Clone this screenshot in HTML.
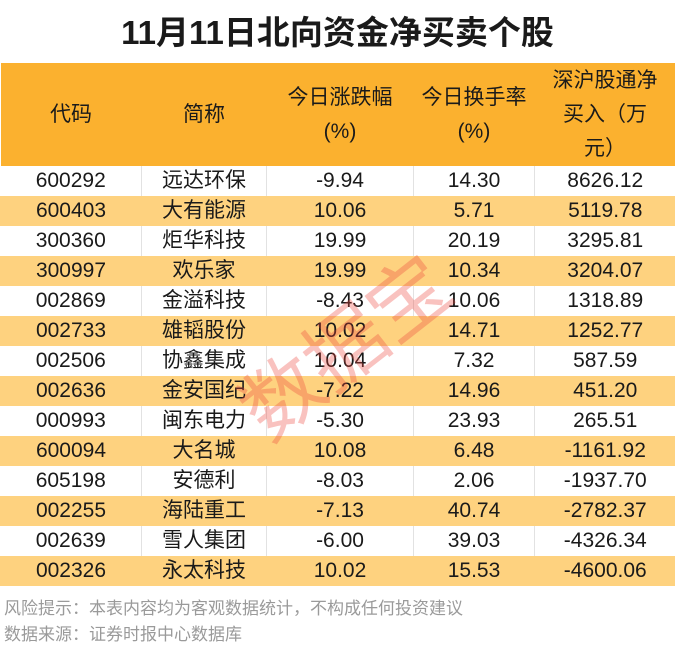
<!DOCTYPE html>
<html><head><meta charset="utf-8"><style>
body{margin:0;width:675px;height:650px;background:#fff;position:relative;overflow:hidden;font-family:"Liberation Sans","Noto Sans CJK SC",sans-serif;color:#1a1a1a}
.title{position:absolute;top:9px;left:0;width:675px;text-align:center;font-size:33px;font-weight:bold;line-height:48px}
table{position:absolute;top:63px;left:0;width:675px;border-collapse:collapse;table-layout:fixed}
td{text-align:center;font-size:21px;height:30px;padding:0;line-height:30px;border-left:1px solid #e2e2e2}
td:first-child{border-left:none}
tr.h td{background:#FBB12F;height:103px;line-height:34px;border-left:none}
tr.o td{background:#FED27F;border-left:1px solid #FED27F}
.foot{position:absolute;left:4px;font-size:17px;color:#9a9a9a}
.wm{position:absolute;left:222px;top:285px;font-size:80px;color:rgba(238,70,60,0.33);transform:rotate(-38deg);white-space:nowrap;font-family:"Noto Sans CJK SC",sans-serif}
</style></head><body>
<div class="title">11月11日北向资金净买卖个股</div>
<table>
<colgroup><col style="width:141px"><col style="width:125px"><col style="width:147px"><col style="width:121px"><col style="width:141px"></colgroup>
<tr class="h"><td>代码</td><td>简称</td><td>今日涨跌幅<br>(%)</td><td>今日换手率<br>(%)</td><td>深沪股通净<br>买入（万<br>元）</td></tr>
<tr><td>600292</td><td>远达环保</td><td>-9.94</td><td>14.30</td><td>8626.12</td></tr>
<tr class="o"><td>600403</td><td>大有能源</td><td>10.06</td><td>5.71</td><td>5119.78</td></tr>
<tr><td>300360</td><td>炬华科技</td><td>19.99</td><td>20.19</td><td>3295.81</td></tr>
<tr class="o"><td>300997</td><td>欢乐家</td><td>19.99</td><td>10.34</td><td>3204.07</td></tr>
<tr><td>002869</td><td>金溢科技</td><td>-8.43</td><td>10.06</td><td>1318.89</td></tr>
<tr class="o"><td>002733</td><td>雄韬股份</td><td>10.02</td><td>14.71</td><td>1252.77</td></tr>
<tr><td>002506</td><td>协鑫集成</td><td>10.04</td><td>7.32</td><td>587.59</td></tr>
<tr class="o"><td>002636</td><td>金安国纪</td><td>-7.22</td><td>14.96</td><td>451.20</td></tr>
<tr><td>000993</td><td>闽东电力</td><td>-5.30</td><td>23.93</td><td>265.51</td></tr>
<tr class="o"><td>600094</td><td>大名城</td><td>10.08</td><td>6.48</td><td>-1161.92</td></tr>
<tr><td>605198</td><td>安德利</td><td>-8.03</td><td>2.06</td><td>-1937.70</td></tr>
<tr class="o"><td>002255</td><td>海陆重工</td><td>-7.13</td><td>40.74</td><td>-2782.37</td></tr>
<tr><td>002639</td><td>雪人集团</td><td>-6.00</td><td>39.03</td><td>-4326.34</td></tr>
<tr class="o"><td>002326</td><td>永太科技</td><td>10.02</td><td>15.53</td><td>-4600.06</td></tr>
</table>
<div class="foot" style="top:594px">风险提示：本表内容均为客观数据统计，不构成任何投资建议</div>
<div class="foot" style="top:620px">数据来源：证券时报中心数据库</div>
<div class="wm">数据宝</div>
</body></html>
